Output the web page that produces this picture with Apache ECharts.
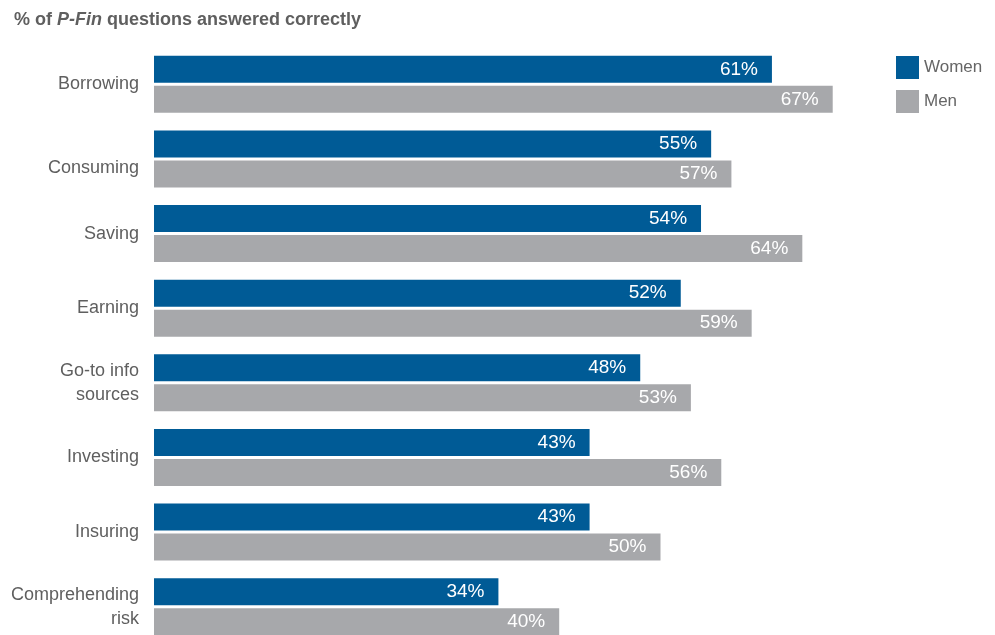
<!DOCTYPE html>
<html>
<head>
<meta charset="utf-8">
<script src="https://cdn.jsdelivr.net/npm/echarts@6/dist/echarts.min.js"></script>
<style>
html,body{margin:0;padding:0;background:#fff;}
#c{width:995px;height:635px;}
</style>
</head>
<body>
<div id="c"></div>
<script>
const categories = ['Borrowing','Consuming','Saving','Earning','Go-to info\nsources','Investing','Insuring','Comprehending\nrisk'];
const women = [61,55,54,52,48,43,43,34];
const men = [67,57,64,59,53,56,50,40];
const seriesNames = ['Women','Men'];

const FONT = "'Liberation Sans','Arial',sans-serif";
const chart = echarts.init(document.getElementById('c'));
const labelCfg = {
  show: true, position: 'insideRight', distance: 14,
  color: '#fff', fontFamily: FONT, fontSize: 19,
  formatter: p => p.value + '%'
};
chart.setOption({
  animation: false,
  title: {
    text: '{a|% of }{b|P-Fin}{a| questions answered correctly}',
    left: 9, top: 6,
    textStyle: {
      rich: {
        a: {fontFamily: FONT, fontSize: 18, fontWeight: 'bold', color: '#5f5f5f'},
        b: {fontFamily: FONT, fontSize: 18, fontWeight: 'bold', fontStyle: 'italic', color: '#5f5f5f'}
      }
    }
  },
  legend: {
    orient: 'vertical', left: 891, top: 51, icon: 'rect',
    itemWidth: 23, itemHeight: 23, itemGap: 11,
    textStyle: {fontFamily: FONT, fontSize: 17, color: '#666'},
    data: seriesNames
  },
  grid: {left: 154, top: 47, width: 810.4, height: 597, containLabel: false, outerBoundsMode: 'none'},
  xAxis: {type: 'value', min: 0, max: 80, show: false},
  yAxis: {
    type: 'category', data: categories, inverse: true,
    axisLine: {show: false}, axisTick: {show: false},
    axisLabel: {
      margin: 15, color: '#5f5f5f', fontFamily: FONT, fontSize: 18, lineHeight: 24,
      formatter: v => v === 'Consuming' ? '{low|' + v + '}' : v,
      rich: {low: {fontFamily: FONT, fontSize: 18, color: '#5f5f5f', padding: [18, 0, 0, 0]}}
    }
  },
  series: [
    {name: seriesNames[0], type: 'bar', data: women, barWidth: 27, barGap: '11%',
     itemStyle: {color: '#005b96'}, label: labelCfg},
    {name: seriesNames[1], type: 'bar', data: men, barWidth: 27, barGap: '11%',
     itemStyle: {color: '#a7a8ab'}, label: labelCfg}
  ]
});
</script>
</body>
</html>
